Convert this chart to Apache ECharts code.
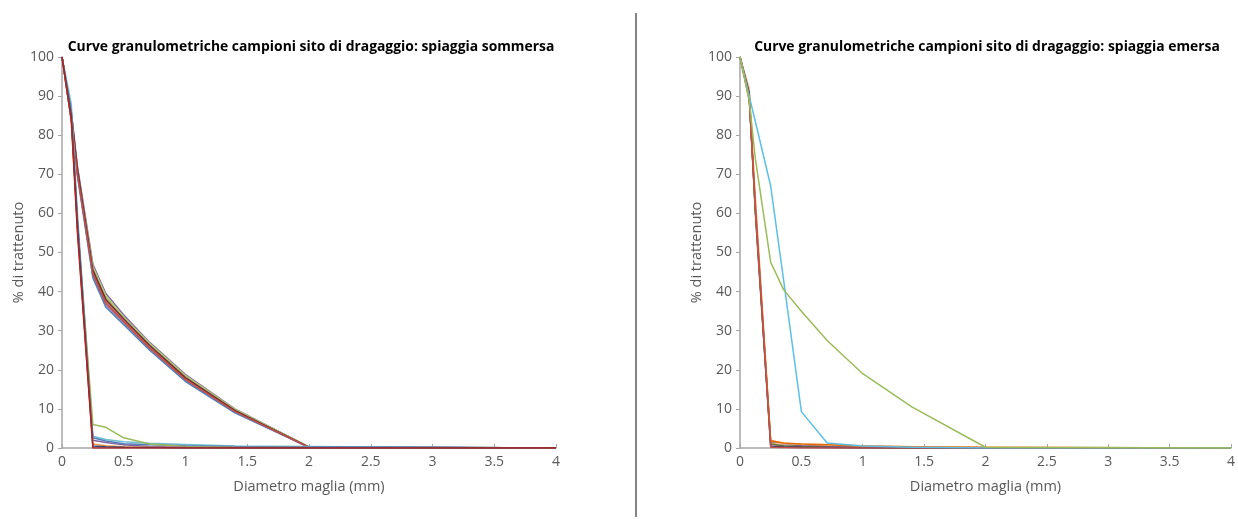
<!DOCTYPE html>
<html>
<head>
<meta charset="utf-8">
<script src="https://cdn.jsdelivr.net/npm/echarts@6/dist/echarts.min.js"></script>
<style>
  html, body { margin: 0; padding: 0; background: #fff; }
  #chart { width: 1238px; height: 519px; }
</style>
</head>
<body>
<div id="chart"></div>
<script>
// sieve openings (mm)
const sieve = [0, 0.075, 0.125, 0.25, 0.355, 0.5, 0.71, 1, 1.4, 2, 4];
const xTicks = [0, 0.5, 1, 1.5, 2, 2.5, 3, 3.5, 4];

// spiaggia sommersa - campioni sabbiosi
const som1 = [100, 86, 72, 47, 39.5, 34, 27, 18.8, 10, 0.3, 0];
const som2 = [100, 85, 71, 46, 38.5, 33.3, 26.5, 18.3, 9.8, 0.3, 0];
const som3 = [100, 84, 70, 45, 37.5, 32.5, 25.8, 17.8, 9.5, 0.2, 0];
const som4 = [100, 85, 70.5, 44, 36.5, 32, 25.3, 17.3, 9.2, 0.2, 0];
const som5 = [100, 84, 69.5, 43.5, 36, 31.5, 25, 17, 9, 0.2, 0];
const som6 = [100, 85, 71, 46.5, 39, 33.5, 26.8, 18.5, 9.9, 0.3, 0];
const som7 = [100, 86, 71.5, 45.5, 38, 33, 26.2, 18, 9.6, 0.2, 0];
const som8 = [100, 84, 70, 44.5, 37, 32.3, 25.5, 17.5, 9.3, 0.2, 0];
// spiaggia sommersa - campioni fini
const som9 = [100, 88, 60, 3, 2.2, 1.6, 1.2, 0.9, 0.5, 0.4, 0];
const som10 = [100, 86, 58, 2.6, 1.8, 1.1, 0.8, 0.6, 0.4, 0.3, 0];
const som11 = [100, 85, 57, 6, 5.3, 2.6, 1, 0.4, 0.2, 0.1, 0];
const som12 = [100, 85, 58, 2, 1.4, 0.8, 0.4, 0.2, 0.1, 0, 0];
const som13 = [100, 84, 56, 1, 0.6, 0.3, 0.2, 0.1, 0, 0, 0];
const som14 = [100, 85, 57, 0.5, 0.3, 0.2, 0.1, 0, 0, 0, 0];
const som15 = [100, 84, 55, 0, 0, 0, 0, 0, 0, 0, 0];

// spiaggia emersa
const eme1 = [100, 90, 83.5, 67, 43, 9.3, 1.3, 0.5, 0.2, 0, 0];
const eme2 = [100, 89, 74, 47.5, 40.5, 35, 27.5, 19, 10.5, 0.2, 0];
const eme3 = [100, 91, 64, 2, 1.2, 0.8, 0.5, 0.3, 0.2, 0, 0];
const eme4 = [100, 90, 62, 1.5, 1, 0.6, 0.4, 0.2, 0.1, 0, 0];
const eme5 = [100, 92, 63, 1.2, 1.1, 1, 0.9, 0.6, 0.3, 0.1, 0];
const eme6 = [100, 90, 61, 1, 0.6, 0.4, 0.2, 0.1, 0, 0, 0];
const eme7 = [100, 91, 60, 0.5, 0.3, 0.2, 0.1, 0, 0, 0, 0];
const eme8 = [100, 89, 62, 0.2, 0.1, 0, 0, 0, 0, 0, 0];
const eme9 = [100, 90, 61, 1.8, 1.3, 1, 0.8, 0.5, 0.3, 0.2, 0];

const somData = [som1, som2, som3, som4, som5, som6, som7, som8, som9, som10, som11, som12, som13, som14, som15];
const somColors = ['#8064A2', '#9BBB59', '#CD7371', '#9983B5', '#4F81BD', '#AFC97A', '#772C2A', '#C0504D',
  '#6FBDD1', '#4F81BD', '#9BBB59', '#8064A2', '#F79646', '#2C4D75', '#B22222'];
const emeData = [eme3, eme4, eme5, eme6, eme7, eme9, eme8, eme1, eme2];
const emeColors = ['#F79646', '#8064A2', '#FAC090', '#5F7530', '#4D3B62', '#E46C0A', '#C0504D', '#5BC0E8', '#9BBB59'];

const textColor = '#595959';
const font = 'Open Sans';

function makeX(idx) {
  return {
    type: 'value', gridIndex: idx, min: 0, max: 4, interval: 0.5,
    name: 'Diametro maglia (mm)', nameLocation: 'middle', nameGap: 31,
    nameTextStyle: { color: textColor, fontSize: 14.5, fontFamily: font },
    axisLine: { lineStyle: { color: '#A6A6A6', width: 1.5 } },
    axisTick: { inside: true, length: 4, lineStyle: { color: '#A6A6A6' } },
    axisLabel: { color: textColor, fontSize: 14, fontFamily: font, margin: 7,
      formatter: v => xTicks.indexOf(v) >= 0 ? String(v) : '' },
    splitLine: { show: false }
  }
}

function makeY(idx) {
  return {
    type: 'value', gridIndex: idx, min: 0, max: 100, interval: 10,
    name: '% di trattenuto', nameLocation: 'middle', nameGap: 36,
    nameTextStyle: { color: textColor, fontSize: 14.5, fontFamily: font },
    axisLine: { show: true, lineStyle: { color: '#A6A6A6', width: 1.5 } },
    axisTick: { show: true, length: 4, lineStyle: { color: '#A6A6A6' } },
    axisLabel: { color: textColor, fontSize: 14, fontFamily: font, margin: 8 },
    splitLine: { show: false }
  }
}

function makeSeries(list, colors, idx) {
  return list.map((vals, i) => ({
    type: 'line', xAxisIndex: idx, yAxisIndex: idx,
    showSymbol: false, symbol: 'none', silent: true,
    lineStyle: { color: colors[i], width: 1.5 },
    data: sieve.map((s, k) => [s, vals[k]])
  }))
}

const chart = echarts.init(document.getElementById('chart'), null, { renderer: 'canvas' });
chart.setOption({
  animation: false,
  title: [
    { text: 'Curve granulometriche campioni sito di dragaggio: spiaggia sommersa', left: 306, top: 35, textAlign: 'center',
      textStyle: { fontSize: 13.9, fontWeight: 'bold', color: '#000', fontFamily: font } },
    { text: 'Curve granulometriche campioni sito di dragaggio: spiaggia emersa', left: 982, top: 35, textAlign: 'center',
      textStyle: { fontSize: 13.9, fontWeight: 'bold', color: '#000', fontFamily: font } }
  ],
  grid: [
    { left: 62, top: 57, width: 494, height: 391 },
    { left: 740, top: 57, width: 494, height: 391 }
  ],
  xAxis: [makeX(0), makeX(1)],
  yAxis: [makeY(0), makeY(1)],
  graphic: [{
    type: 'line', shape: { x1: 636, y1: 13, x2: 636, y2: 517 },
    style: { stroke: '#595959', lineWidth: 1.5 }
  }],
  series: makeSeries(somData, somColors, 0).concat(makeSeries(emeData, emeColors, 1))
});
</script>
</body>
</html>
